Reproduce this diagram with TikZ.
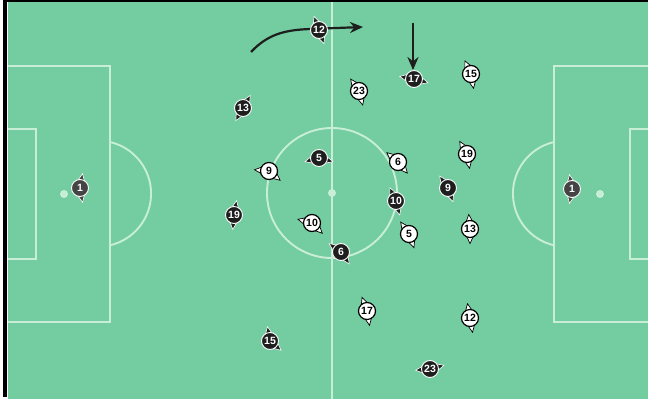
\documentclass[tikz,border=0pt]{standalone}
\usepackage{fontspec}
\setsansfont{Liberation Sans}
\usetikzlibrary{arrows.meta,backgrounds}
\definecolor{pitch}{RGB}{115,205,160}
\definecolor{chalk}{RGB}{200,238,215}
\definecolor{shirt}{RGB}{30,30,30}
\definecolor{keeper}{RGB}{68,68,68}

\begin{document}
\begin{tikzpicture}[x=1pt,y=1pt,
  chalkline/.style={draw=chalk,line width=1.9pt},
  home/.style={circle,draw=black,line width=1.2pt,fill=white,text=black,minimum size=17pt,inner sep=0pt,
    font=\sffamily\bfseries\fontsize{10.5}{10.5}\selectfont},
  away/.style={home,draw=white,line width=0.9pt,fill=shirt,text=white},
  gk/.style={away,fill=keeper},
  earw/.style={fill=white,draw=black,line width=0.7pt},
  earb/.style={fill=shirt,draw=white,line width=0.6pt},
  earg/.style={earb,fill=keeper},
  run/.style={draw=shirt,line width=2.2pt,-{Stealth[length=13pt,width=11pt]}}]
\useasboundingbox (0,0) rectangle (648,399);

% pitch
\begin{pgfonlayer}{background}
\fill[black] (3,2) rectangle (7,399);
\fill[black] (3,397) rectangle (648,399);
\fill[pitch] (8,0) rectangle (648,397);
\begin{scope}
\clip (8,0) rectangle (648,397);
\draw[chalkline] (332,0) -- (332,397);
\draw[chalkline] (332,206) circle[radius=65];
\fill[chalk] (332,206) circle[radius=4];
% left end
\draw[chalkline] (0,333) -| (110,77) -- (0,77);
\draw[chalkline] (0,270) -| (36,140) -- (0,140);
\fill[chalk] (64,205) circle[radius=4];
\draw[chalkline] (110,257) arc[start angle=77,end angle=-77,radius=53];
% right end
\draw[chalkline] (648,333) -| (554,77) -- (648,77);
\draw[chalkline] (648,270) -| (630,140) -- (648,140);
\fill[chalk] (600,205) circle[radius=4];
\draw[chalkline] (554,257) arc[start angle=103,end angle=257,radius=53];
\end{scope}
\end{pgfonlayer}

% runs
\coordinate (runfrom) at (251,347);
\coordinate (runto) at (363,372);
\draw[run] (runfrom) .. controls (268,365) and (285,369) .. (310,370) -- (runto);
\coordinate (dropfrom) at (413,376);

% dark side
\node[away] (b12) at (319,369) {12};
\node[away] (b13) at (243,291) {13};
\node[away] (b17) at (414,320) {17};
\node[away] (b5) at (319,241) {5};
\node[away] (b9) at (448,211) {9};
\node[away] (b10) at (396,198) {10};
\node[away] (b19) at (234,184) {19};
\node[away] (b6) at (341,147) {6};
\node[away] (b15) at (270,58) {15};
\node[away] (b23) at (430,30) {23};
\node[gk] (g1) at (572,210) {1};
% light side
\node[home] (w23) at (359,308) {23};
\node[home] (w15) at (471,325) {15};
\node[home] (w19) at (467,245) {19};
\node[home] (w6) at (398,237) {6};
\node[home] (w9) at (269,228) {9};
\node[home] (w10) at (312,176) {10};
\node[home] (w5) at (409,165) {5};
\node[home] (w13) at (470,170) {13};
\node[home] (w17) at (367,88) {17};
\node[home] (w12) at (470,81) {12};
\node[gk] (k1) at (80,211) {1};

\draw[run] (dropfrom) -- (dropfrom |- b17.north);

% shoulders
\begin{pgfonlayer}{background}
\foreach \p/\a/\b/\s in {b12/110/-70/earb,b13/60/240/earb,b17/170/-15/earb,b5/195/-15/earb,
    b9/125/-70/earb,b10/115/-75/earb,b19/80/-95/earb,b6/145/-55/earb,b15/100/-40/earb,b23/185/15/earb,
    g1/100/-100/earg,k1/80/-80/earg,
    w23/125/-75/earw,w15/115/-80/earw,w19/120/-80/earw,w6/140/-50/earw,w9/175/-40/earw,
    w10/165/-45/earw,w5/125/-70/earw,w13/95/-90/earw,w17/110/-80/earw,w12/100/-80/earw}
  \foreach \t in {\a,\b}
    \filldraw[\s,shift={(\p.center)}] (\t-36:7pt) -- (\t:14.5pt) -- (\t+36:7pt) -- cycle;
\end{pgfonlayer}
\end{tikzpicture}
\end{document}
